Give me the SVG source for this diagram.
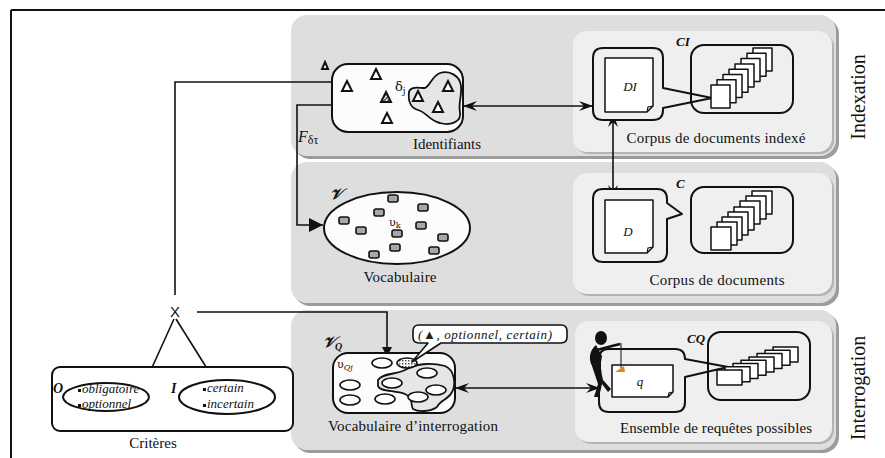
<svg xmlns="http://www.w3.org/2000/svg" width="885" height="458" viewBox="0 0 885 458">
<style>
.lbl{font-family:"Liberation Serif","DejaVu Serif",serif;font-size:15px;fill:#111}
.it{font-family:"Liberation Serif","DejaVu Serif",serif;font-style:italic;fill:#111}
.sym{font-family:"DejaVu Serif","Liberation Serif",serif;fill:#111}
.side{font-family:"Liberation Serif","DejaVu Serif",serif;font-size:20px;fill:#111}
.opanel{fill:#dedede}
.oshadow{fill:#9c9c9c}
.ipanel{fill:#efefef}
.ishadow{fill:#b4b4b4}
.box{fill:#fcfcfc;stroke:#111;stroke-width:2}
.bub{fill:#efefef;stroke:#111;stroke-width:2;stroke-linejoin:round}
.page{fill:#fff;stroke:#111;stroke-width:1.5;stroke-linejoin:round}
.tri{fill:#fff;stroke:#111;stroke-width:2;stroke-linejoin:miter}
.chip{fill:#a8a8a8;stroke:#111;stroke-width:1.6}
.ov{fill:#fff;stroke:#111;stroke-width:1.6}
.conn{fill:none;stroke:#111;stroke-width:1.6}
</style>
<defs>
<marker id="barb" viewBox="0 0 14 10" refX="14" refY="5" markerWidth="14" markerHeight="10" orient="auto-start-reverse" markerUnits="userSpaceOnUse"><path d="M0,0 L14,5 L0,10 L5,5 Z" fill="#111"/></marker>
<marker id="bigtri" viewBox="0 0 14 14" refX="14" refY="7" markerWidth="14" markerHeight="14" orient="auto" markerUnits="userSpaceOnUse"><path d="M0,0 L14,7 L0,14 Z" fill="#111"/></marker>
<marker id="smtri" viewBox="0 0 10 10" refX="10" refY="5" markerWidth="10" markerHeight="10" orient="auto" markerUnits="userSpaceOnUse"><path d="M0,0 L10,5 L0,10 Z" fill="#111"/></marker>
<pattern id="hatch" width="3" height="3" patternUnits="userSpaceOnUse"><rect width="3" height="3" fill="#fff"/><rect width="1.5" height="1.5" fill="#555"/></pattern>
<pattern id="hatch2" width="3" height="3" patternUnits="userSpaceOnUse" patternTransform="rotate(45)"><rect width="3" height="3" fill="#fff"/><rect width="1.5" height="3" fill="#333"/></pattern>
</defs>

<g id="frame">
<line x1="11" y1="10" x2="885" y2="10" stroke="#111" stroke-width="2"/>
<line x1="11" y1="10" x2="11" y2="458" stroke="#111" stroke-width="2"/>
</g>

<g id="panels">
<rect class="oshadow" x="294" y="18" width="545" height="141" rx="16"/>
<rect class="opanel" x="291" y="15" width="545" height="141" rx="16"/>
<rect class="oshadow" x="294" y="165" width="545" height="141" rx="16"/>
<rect class="opanel" x="291" y="162" width="545" height="141" rx="16"/>
<rect class="oshadow" x="294" y="313" width="545" height="140" rx="16"/>
<rect class="opanel" x="291" y="310" width="545" height="140" rx="16"/>
<rect class="ishadow" x="575" y="33" width="259" height="121" rx="14"/>
<rect class="ipanel" x="573" y="31" width="259" height="121" rx="14"/>
<rect class="ishadow" x="575" y="175" width="259" height="121" rx="14"/>
<rect class="ipanel" x="573" y="173" width="259" height="121" rx="14"/>
<rect class="ishadow" x="577" y="323" width="257" height="121" rx="14"/>
<rect class="ipanel" x="575" y="321" width="257" height="121" rx="14"/>
<text class="side" transform="translate(865,97) rotate(-90)" text-anchor="middle">Indexation</text>
<text class="side" transform="translate(865,388) rotate(-90)" text-anchor="middle">Interrogation</text>
</g>

<g id="connectors">
<polyline class="conn" points="332,82 175,82 175,295"/>
<polyline class="conn" points="197,312 387,312 387,357" marker-end="url(#smtri)"/>
<polyline class="conn" points="332,105 297,105 297,225 323,225" marker-end="url(#bigtri)"/>
<line class="conn" x1="463" y1="106" x2="593" y2="106" marker-start="url(#barb)" marker-end="url(#barb)"/>
<line class="conn" x1="613" y1="113" x2="613" y2="199" marker-start="url(#barb)" marker-end="url(#barb)"/>
<line class="conn" x1="455" y1="388" x2="600" y2="388" marker-start="url(#barb)" marker-end="url(#barb)"/>
<line class="conn" x1="174" y1="319" x2="145" y2="383" stroke-width="2"/>
<line class="conn" x1="176" y1="319" x2="213" y2="378" stroke-width="2"/>
<text x="175" y="317" text-anchor="middle" font-family="Liberation Sans, Arial, sans-serif" font-size="15" fill="#111">X</text>
<text x="298" y="142" class="it" font-size="16">F<tspan font-size="12" dy="2" font-style="normal">δτ</tspan></text>
</g>

<g id="identifiants">
<rect class="box" x="332" y="64" width="131" height="68" rx="16"/>
<path d="M409,92 C410,86 418,88 425,88 C430,86 432,76 440,73 C450,70 460,76 461,86 C462,96 458,104 460,112 C462,122 450,126 440,123 C430,121 426,112 418,110 C410,108 408,100 409,92 Z" fill="#e6e6e6" stroke="#111" stroke-width="1.8"/>
<polygon class="tri" points="347,81 352,91 342,91"/>
<polygon class="tri" points="376,69 381,79 371,79"/>
<polygon points="386,92 391,102 381,102" fill="url(#hatch2)" stroke="#111" stroke-width="2"/>
<polygon class="tri" points="387,113 392,123 382,123"/>
<polygon class="tri" points="418,91 423,101 413,101"/>
<polygon class="tri" points="448,81 453,91 443,91"/>
<polygon class="tri" points="438,102 443,112 433,112"/>
<polygon points="325,62 328,69 322,69" fill="#fff" stroke="#111" stroke-width="2"/>
<text x="395" y="91" class="sym" font-size="13">δ<tspan font-size="9" dy="3">j</tspan></text>
<text x="447" y="149" class="lbl" text-anchor="middle" textLength="68" lengthAdjust="spacing">Identifiants</text>
</g>

<g id="vocabulaire">
<ellipse class="box" cx="397" cy="228" rx="73" ry="36"/>
<rect class="chip" x="388" y="195" width="10" height="7" rx="2"/>
<rect class="chip" x="374" y="209" width="10" height="7" rx="2"/>
<rect class="chip" x="418" y="204" width="10" height="7" rx="2"/>
<rect class="chip" x="339" y="217" width="10" height="7" rx="2"/>
<rect class="chip" x="356" y="227" width="10" height="7" rx="2"/>
<rect class="chip" x="416" y="222" width="10" height="7" rx="2"/>
<rect class="chip" x="392" y="230" width="10" height="7" rx="2"/>
<rect class="chip" x="438" y="234" width="10" height="7" rx="2"/>
<rect class="chip" x="390" y="244" width="10" height="7" rx="2"/>
<rect class="chip" x="369" y="251" width="10" height="7" rx="2"/>
<rect class="chip" x="429" y="247" width="10" height="7" rx="2"/>
<text x="389" y="226" class="sym" font-size="11">υ<tspan font-size="8" dy="2">k</tspan></text>
<text x="330" y="199" class="it" font-size="15" font-weight="bold">𝒱</text>
<text x="400" y="282" class="lbl" text-anchor="middle" textLength="73" lengthAdjust="spacing">Vocabulaire</text>
</g>

<g id="corpus-indexe">
<path class="bub" d="M603,48 H653 Q663,48 663,58 V88 L712,98 L663,108 V110 Q663,120 653,120 H603 Q593,120 593,110 V58 Q593,48 603,48 Z"/>
<path class="page" d="M605,58 H653 V106 L647,112 H605 Z"/>
<path d="M647,112 L648,107 L653,106" fill="none" stroke="#111" stroke-width="1.2"/>
<text x="630" y="91" class="it" font-size="13" text-anchor="middle">DI</text>
<rect x="691" y="45" width="102" height="68" rx="13" fill="none" stroke="#111" stroke-width="2"/>
<g class="page">
<rect x="753" y="48" width="19" height="23"/>
<rect x="747" y="53.3" width="19" height="23"/>
<rect x="741" y="58.6" width="19" height="23"/>
<rect x="735" y="63.9" width="19" height="23"/>
<rect x="729" y="69.2" width="19" height="23"/>
<rect x="723" y="74.5" width="19" height="23"/>
<rect x="717" y="79.8" width="19" height="23"/>
<rect x="711" y="85" width="19" height="23"/>
</g>
<text x="676" y="46" class="it" font-size="13" font-weight="bold">CI</text>
<text x="716" y="143" class="lbl" text-anchor="middle" textLength="179" lengthAdjust="spacing">Corpus de documents indexé</text>
</g>

<g id="corpus">
<path class="bub" d="M603,189 H657 Q667,189 667,199 V203 L682,214 L667,219 V252 Q667,262 657,262 H603 Q593,262 593,252 V199 Q593,189 603,189 Z"/>
<path class="page" d="M605,200 H653 V247 L647,253 H605 Z"/>
<path d="M647,253 L648,248 L653,247" fill="none" stroke="#111" stroke-width="1.2"/>
<text x="628" y="236" class="it" font-size="13" text-anchor="middle" fill="#444">D</text>
<rect x="691" y="187" width="102" height="66" rx="13" fill="none" stroke="#111" stroke-width="2"/>
<g class="page">
<rect x="752" y="191" width="20" height="23"/>
<rect x="746" y="196" width="20" height="23"/>
<rect x="740" y="201" width="20" height="23"/>
<rect x="734" y="207" width="20" height="23"/>
<rect x="728" y="212" width="20" height="23"/>
<rect x="722" y="217" width="20" height="23"/>
<rect x="717" y="222" width="20" height="23"/>
<rect x="711" y="227" width="20" height="23"/>
</g>
<text x="676" y="188" class="it" font-size="13" font-weight="bold">C</text>
<text x="717" y="285" class="lbl" text-anchor="middle" textLength="135" lengthAdjust="spacing">Corpus de documents</text>
</g>

<g id="vocabulaire-interrogation">
<rect class="box" x="333" y="353" width="122" height="60" rx="15"/>
<path d="M378,380 C382,373 395,375 405,370 C415,364 430,362 445,366 C455,370 456,385 452,392 C448,400 440,400 437,407 C430,412 418,412 413,409 C410,404 414,398 405,394 C395,390 380,392 378,386 Z" fill="#e6e6e6" stroke="#111" stroke-width="1.8"/>
<ellipse class="ov" cx="382" cy="363" rx="10" ry="5"/>
<ellipse cx="407" cy="363" rx="10" ry="5" fill="url(#hatch)" stroke="#111" stroke-width="1.6"/>
<ellipse class="ov" cx="427" cy="373" rx="10" ry="5"/>
<ellipse class="ov" cx="350" cy="385" rx="10" ry="5"/>
<ellipse class="ov" cx="392" cy="383" rx="10" ry="5"/>
<ellipse class="ov" cx="436" cy="390" rx="10" ry="5"/>
<ellipse class="ov" cx="350" cy="400" rx="10" ry="5"/>
<ellipse class="ov" cx="385" cy="399" rx="10" ry="5"/>
<ellipse class="ov" cx="418" cy="397" rx="10" ry="5"/>
<text x="337" y="368" class="sym" font-size="11">υ<tspan font-size="8" dy="2" font-style="italic">Qj</tspan></text>
<text x="323" y="347" class="it" font-size="15" font-weight="bold">𝒱<tspan font-size="10" dy="3">Q</tspan></text>
<text x="413" y="431" class="lbl" text-anchor="middle" textLength="170" lengthAdjust="spacing">Vocabulaire d’interrogation</text>
<path d="M419,325 H561 Q567,325 567,331 V337 Q567,343 561,343 H441 L412,362 L428,343 H419 Q413,343 413,337 V331 Q413,325 419,325 Z" fill="#fff" stroke="#111" stroke-width="1.6" stroke-linejoin="round"/>
<text x="418" y="339" class="it" font-size="13" textLength="134" lengthAdjust="spacing">(<tspan font-style="normal" fill="#222">▲</tspan>, optionnel, certain)</text>
</g>

<g id="requetes">
<path class="bub" d="M609,349 H675 Q685,349 685,359 L728,367 L685,377 V402 Q685,412 675,412 H609 Q599,412 599,402 V359 Q599,349 609,349 Z"/>
<path class="page" d="M612,365 H673 V392 L668,397 H612 Z"/>
<path d="M668,397 L669,393 L673,392" fill="none" stroke="#111" stroke-width="1.2"/>
<text x="640" y="386" class="it" font-size="13" text-anchor="middle">q</text>
<rect x="708" y="332" width="102" height="68" rx="13" fill="none" stroke="#111" stroke-width="2"/>
<g class="page">
<rect x="773" y="347" width="25" height="15"/>
<rect x="765" y="350.3" width="25" height="15"/>
<rect x="757" y="353.6" width="25" height="15"/>
<rect x="749" y="356.9" width="25" height="15"/>
<rect x="741" y="360.2" width="25" height="15"/>
<rect x="733" y="363.5" width="25" height="15"/>
<rect x="725" y="366.8" width="25" height="15"/>
<rect x="717" y="370" width="25" height="15"/>
</g>
<text x="687" y="343" class="it" font-size="13" font-weight="bold">CQ</text>
<text x="716" y="433" class="lbl" text-anchor="middle" textLength="192" lengthAdjust="spacing">Ensemble de requêtes possibles</text>
<g id="person">
<ellipse cx="601" cy="338" rx="6" ry="7" fill="#111"/>
<path d="M596,345 C590,350 588,358 592,366 C594,372 596,378 598,384 L594,397 L599,397 L602,384 L608,392 L611,389 L603,380 C601,372 600,364 602,356 Z" fill="#111"/>
<path d="M597,350 L612,346 L620,344" fill="none" stroke="#111" stroke-width="2.5"/>
<line x1="621" y1="343" x2="621" y2="368" stroke="#111" stroke-width="1"/>
<polygon points="615,372 624,366 625,372" fill="#d88a1a"/>
</g>
</g>

<g id="criteres">
<rect x="52" y="367" width="241" height="64" rx="8" fill="#fff" stroke="#111" stroke-width="2"/>
<ellipse cx="106" cy="397" rx="43" ry="14" fill="#fff" stroke="#111" stroke-width="2"/>
<ellipse cx="227" cy="397" rx="48" ry="17" fill="#fff" stroke="#111" stroke-width="2"/>
<text x="53" y="393" class="it" font-size="14" font-weight="bold">O</text>
<text x="171" y="393" class="it" font-size="14" font-weight="bold">I</text>
<g class="it" font-size="13">
<rect x="78" y="389" width="3" height="3" fill="#111"/><text x="82" y="393">obligatoire</text>
<rect x="78" y="404" width="3" height="3" fill="#111"/><text x="82" y="408">optionnel</text>
<rect x="203" y="388" width="3" height="3" fill="#111"/><text x="207" y="392">certain</text>
<rect x="203" y="404" width="3" height="3" fill="#111"/><text x="207" y="408">incertain</text>
</g>
<text x="153" y="448" class="lbl" text-anchor="middle">Critères</text>
</g>
</svg>
